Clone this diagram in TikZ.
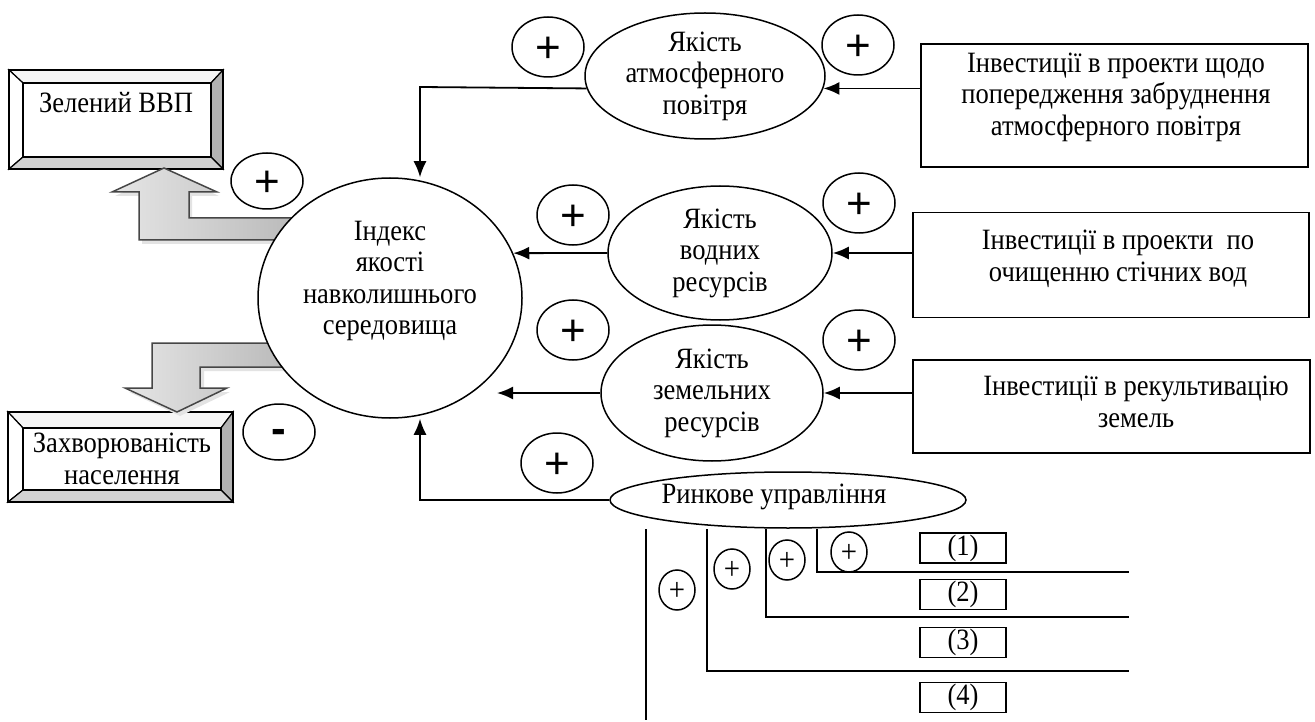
\documentclass[tikz,border=0pt]{standalone}
\usepackage{fontspec}
\setmainfont[FakeStretch=0.9]{Liberation Serif}
\newfontfamily\plusfont{Liberation Sans}
\usetikzlibrary{shapes.geometric,arrows.meta,calc}
\newcommand{\bevelframe}[8]{%
 \filldraw[bev, fill=gray!8] (#1,#2) -- (#3,#2) -- (#7,#6) -- (#5,#6) -- cycle;
 \filldraw[bev, fill=white] (#1,#2) -- (#5,#6) -- (#5,#8) -- (#1,#4) -- cycle;
 \filldraw[bev, fill=gray!60] (#3,#2) -- (#3,#4) -- (#7,#8) -- (#7,#6) -- cycle;
 \filldraw[bev, fill=gray!35] (#1,#4) -- (#3,#4) -- (#7,#8) -- (#5,#8) -- cycle;}
\begin{document}
\begin{tikzpicture}[x=1pt,y=-1pt,
  base/.style={font=\fontsize{29.5}{31.5}\selectfont, text=black},
  txt/.style={base, align=center, inner sep=0},
  ell/.style={draw, ellipse, line width=1.5, fill=white, inner sep=0, align=center, base},
  bigplus/.style={draw, ellipse, line width=1.5, minimum width=72, minimum height=60, inner sep=0, text height=31pt, text depth=0pt, font=\plusfont\fontsize{44}{44}\selectfont},
  smallplus/.style={draw, ellipse, line width=1.5, minimum width=36, minimum height=40, inner sep=0, text height=20pt, text depth=0pt, font=\fontsize{32}{32}\selectfont},
  invbox/.style={draw, rectangle, line width=1.8, inner sep=0},
  numbox/.style={draw, rectangle, line width=1.8, minimum width=86, minimum height=30, inner sep=0, base},
  conn/.style={line width=1.8, -{Latex[length=16pt,width=13pt]}},
  plainline/.style={line width=1.8},
  bev/.style={draw=black, line width=1.2},
  garrow/.style={draw=gray!55!black, line width=1.5, left color=gray!20, right color=gray!55},
  gshadow/.style={fill=gray!22}
]
\useasboundingbox (0,0) rectangle (1315,722);

% bevel boxes
\bevelframe{9}{70}{223}{169}{23}{83}{211}{157}
\node[bev, minimum width=214, minimum height=99, inner sep=0] (gdp) at (116,119.5) {};
\node[bev, minimum width=188, minimum height=74, inner sep=0] (gdpin) at (117,120) {};
\node[txt] at (116,103) {Зелений ВВП};

\bevelframe{8}{412}{233}{502}{23}{428}{221}{490}
\node[bev, minimum width=225, minimum height=90, inner sep=0] (ill) at (120.5,457) {};
\node[bev, minimum width=198, minimum height=62, inner sep=0, txt] (illin) at (122,459) {Захворюваність\\населення};

% gray arrows
\fill[gshadow] (300,222) -- (192,222) -- (192,196) -- (219,196) -- (167,172) -- (115,196) -- (142,196) -- (142,244) -- (300,244) -- cycle;
\draw[garrow] (300,218) -- (189,218) -- (189,192) -- (217,192) -- (164,168) -- (112,192) -- (139,192) -- (139,240) -- (300,240) -- cycle;
\fill[gshadow] (290,371) -- (204,371) -- (204,392) -- (230,392) -- (180,416) -- (129,392) -- (156,392) -- (156,347) -- (290,347) -- cycle;
\draw[garrow] (290,343) -- (152,343) -- (152,388) -- (125,388) -- (177,412) -- (227,388) -- (200,388) -- (200,367) -- (290,367) -- cycle;

% main ellipse
\node[ell, minimum width=264, minimum height=240] (main) at (390,298) {};
\node[txt] at (390,281) {Індекс\\якості\\навколишнього\\середовища};

% quality ellipses
\node[ell, minimum width=240, minimum height=126] (atm) at (705,76) {Якість\\атмосферного\\повітря};
\node[ell, minimum width=224, minimum height=134] (water) at (720,253) {Якість\\водних\\ресурсів};
\node[ell, minimum width=222, minimum height=136] (land) at (712,393) {Якість\\земельних\\ресурсів};
\node[ell, minimum width=356, minimum height=56] (market) at (788,500) {};
\node[txt] at (774,497) {Ринкове управління};

% investment boxes
\node[invbox, minimum width=387, minimum height=123] (abox) at (1114.5,105.5) {};
\node[txt] at (1116,97) {Інвестиції в проекти щодо\\попередження забруднення\\атмосферного повітря};
\node[invbox, minimum width=396, minimum height=105] (wbox) at (1111,265) {};
\node[txt] at (1118,259) {Інвестиції в проекти\ \ по\\очищенню стічних вод};
\node[invbox, minimum width=397, minimum height=93] (lbox) at (1111.5,406.5) {};
\node[txt] at (1136,402) {Інвестиції в рекультивацію\\земель};

% signs
\node[bigplus] (p1) at (548,47) {+};
\node[bigplus] (p2) at (858,45) {+};
\node[bigplus] (p3) at (573,215) {+};
\node[bigplus] (p4) at (859,203) {+};
\node[bigplus] (p5) at (573,330) {+};
\node[bigplus] (p6) at (859,340) {+};
\node[bigplus] (p7) at (557,463) {+};
\node[bigplus, minimum height=56] (p8) at (267,181) {+};
\node[bigplus, minimum height=56, text height=23pt, font=\plusfont\bfseries\fontsize{44}{44}\selectfont] (m1) at (279,432) {-};

% connectors
\coordinate (ca) at (420,87);
\draw[conn] (atm.186) -- (ca) -- (ca |- main.north);
\draw[conn] (abox.west |- atm.354) -- (atm.354);
\draw[conn] (water.west) -- (main.20);
\draw[conn] (wbox.west |- water.east) -- (water.east);
\coordinate (lt) at (497,393);
\draw[conn] (land.west) -- (lt);
\draw[conn] (lbox.west |- land.east) -- (land.east);
\coordinate (cm) at (420,500);
\draw[conn] (market.west) -- (cm) -- (cm |- main.south);

% market branches
\coordinate (v1t) at (646,529); \coordinate (v1b) at (646,720);
\coordinate (v2t) at (707,529); \coordinate (v2c) at (707,671); \coordinate (v2e) at (1129,671);
\coordinate (v3t) at (766,529); \coordinate (v3c) at (766,617); \coordinate (v3e) at (1129,617);
\coordinate (v4t) at (817,529); \coordinate (v4c) at (817,572); \coordinate (v4e) at (1129,572);
\draw[plainline] (v1t) -- (v1b);
\draw[plainline] (v2t) -- (v2c) -- (v2e);
\draw[plainline] (v3t) -- (v3c) -- (v3e);
\draw[plainline] (v4t) -- (v4c) -- (v4e);

\node[smallplus] (s1) at (677,590) {+};
\node[smallplus] (s2) at (732,569) {+};
\node[smallplus] (s3) at (787,560) {+};
\node[smallplus] (s4) at (849,552) {+};

\node[numbox] (n1) at (963,548) {(1)};
\node[numbox] (n2) at (963,594.5) {(2)};
\node[numbox] (n3) at (963,642.5) {(3)};
\node[numbox] (n4) at (963,697.5) {(4)};
\end{tikzpicture}
\end{document}
